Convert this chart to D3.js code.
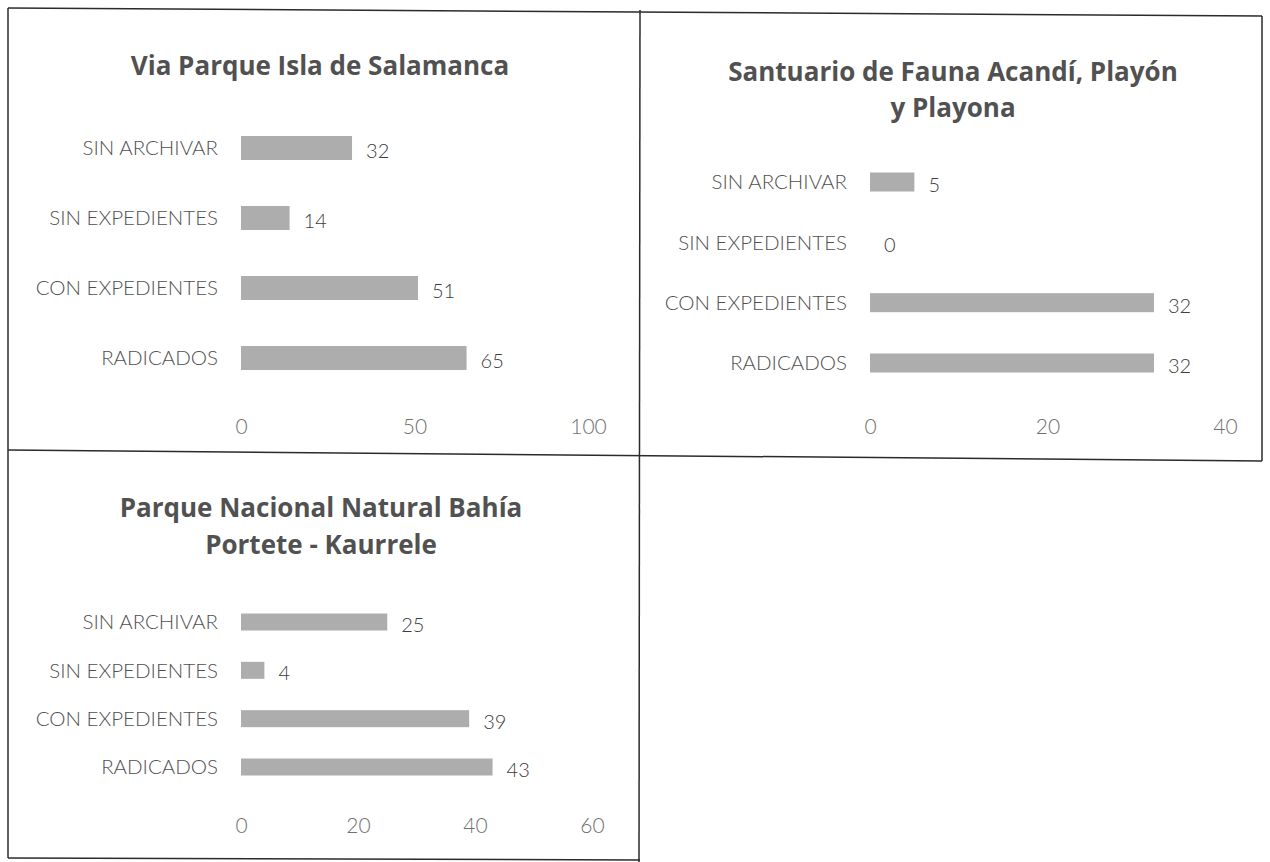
<!DOCTYPE html>
<html>
<head>
<meta charset="utf-8">
<script src="https://cdn.jsdelivr.net/npm/d3@7"></script>
<style>
  body { margin: 0; background: #fff; }
  svg { display: block; }
  .tick text { font-family: Lato, "Open Sans", sans-serif; }
</style>
</head>
<body>
<div id="chart"></div>
<script>
// data
var categories = ["SIN ARCHIVAR", "SIN EXPEDIENTES", "CON EXPEDIENTES", "RADICADOS"];

var salamancaTitle = ["Via Parque Isla de Salamanca"];
var salamancaValues = [32, 14, 51, 65];
var salamancaTicks = [0, 50, 100];

var acandiTitle = ["Santuario de Fauna Acandí, Playón", "y Playona"];
var acandiValues = [5, 0, 32, 32];
var acandiTicks = [0, 20, 40];

var porteteTitle = ["Parque Nacional Natural Bahía", "Portete - Kaurrele"];
var porteteValues = [25, 4, 39, 43];
var porteteTicks = [0, 20, 40, 60];

var width = 1270, height = 862;

var svg = d3.select("#chart")
  .append("svg")
    .attr("width", width)
    .attr("height", height);

// table borders (the scan is a little tilted)
var borders = [
  [8, 8, 1262, 16],
  [8, 8, 8, 858],
  [640, 10, 639, 862],
  [1262, 16, 1262, 461],
  [8, 450, 1262, 461],
  [8, 858, 640, 860]
];
svg.selectAll("line.border")
  .data(borders)
  .enter()
  .append("line")
    .attr("class", "border")
    .attr("x1", d => d[0]).attr("y1", d => d[1])
    .attr("x2", d => d[2]).attr("y2", d => d[3])
    .style("stroke", "#2b2b2b")
    .style("stroke-width", 1.5);

function drawPanel(opt) {
  var g = svg.append("g");

  var x = d3.scaleLinear()
    .domain([opt.ticks[0], opt.ticks[opt.ticks.length - 1]])
    .range(opt.xRange);

  var y = d3.scalePoint()
    .domain(categories)
    .range(opt.yRange);

  // title
  g.selectAll("text.title")
    .data(opt.title)
    .enter()
    .append("text")
      .attr("class", "title")
      .attr("x", opt.titleX)
      .attr("y", (d, i) => opt.titleY + i * opt.titleGap)
      .attr("text-anchor", "middle")
      .style("font-family", "'Open Sans', Lato, sans-serif")
      .style("font-weight", "bold")
      .style("font-size", "26px")
      .style("fill", "#515151")
      .text(d => d);

  // bars
  g.selectAll("rect")
    .data(opt.values)
    .enter()
    .append("rect")
      .attr("x", x(0))
      .attr("y", (d, i) => y(categories[i]) - opt.barH / 2)
      .attr("width", d => x(d) - x(0))
      .attr("height", opt.barH)
      .style("fill", "#adadad");

  // category labels
  g.selectAll("text.cat")
    .data(categories)
    .enter()
    .append("text")
      .attr("class", "cat")
      .attr("x", x(0) - 23)
      .attr("y", d => y(d))
      .attr("dy", "0.35em")
      .attr("text-anchor", "end")
      .style("font-family", "Lato, 'Open Sans', sans-serif")
      .style("font-weight", "300")
      .style("font-size", "20.5px")
      .style("fill", "#505050")
      .text(d => d);

  // value labels
  g.selectAll("text.val")
    .data(opt.values)
    .enter()
    .append("text")
      .attr("class", "val")
      .attr("x", d => x(d) + 14)
      .attr("y", (d, i) => y(categories[i]) + 3)
      .attr("dy", "0.35em")
      .style("font-family", "Lato, 'Open Sans', sans-serif")
      .style("font-weight", "300")
      .style("font-size", "20px")
      .style("fill", "#3c3c3c")
      .text(d => d);

  // x axis, labels only
  var axis = g.append("g")
    .attr("transform", "translate(0," + opt.axisY + ")")
    .call(d3.axisBottom(x).tickValues(opt.ticks).tickSize(0).tickPadding(0));
  axis.select(".domain").remove();
  axis.selectAll("text")
    .attr("dy", "0.35em")
    .style("font-size", "21px")
    .style("font-weight", "300")
    .style("fill", "#707070");
}

drawPanel({
  title: salamancaTitle, values: salamancaValues, ticks: salamancaTicks,
  titleX: 320, titleY: 75, titleGap: 0,
  xRange: [241, 588], yRange: [148, 358], barH: 24, axisY: 427
});

drawPanel({
  title: acandiTitle, values: acandiValues, ticks: acandiTicks,
  titleX: 953, titleY: 81, titleGap: 36,
  xRange: [870, 1225], yRange: [182, 363], barH: 19, axisY: 427
});

drawPanel({
  title: porteteTitle, values: porteteValues, ticks: porteteTicks,
  titleX: 321, titleY: 517, titleGap: 37,
  xRange: [241, 592], yRange: [622, 767], barH: 17, axisY: 826
});
</script>
</body>
</html>
